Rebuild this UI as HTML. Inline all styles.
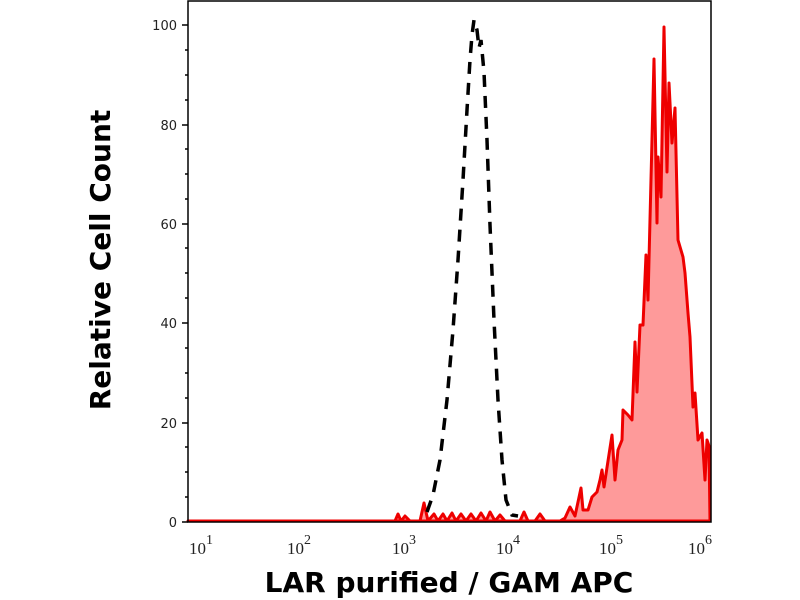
<!DOCTYPE html>
<html><head><meta charset="utf-8"><style>body{margin:0;background:#fff}svg{display:block}</style></head><body>
<svg width="800" height="600" xmlns="http://www.w3.org/2000/svg">
<rect width="800" height="600" fill="#fff"/>
<path d="M188,521 L395,521 L398,514 L401,521 L405,516 L410,521 L420,521 L424,503 L428,521 L434,514 L438,521 L443,514 L447,521 L452,513 L456,521 L461,514 L466,521 L471,514 L476,521 L481,513 L486,521 L490,512 L495,521 L500,515 L505,521 L520,521 L524,512 L528,521 L535,521 L540,514 L545,521 L560,521 L565,518 L570,507 L575,516 L581,488 L583,510 L588,510 L592,497 L597,492 L600,480 L602,470 L604,487 L612,435 L615,480 L618,450 L622,440 L623,410 L628,415 L632,420 L635,342 L637,392 L640,325 L643,325 L646,255 L648,300 L654,59 L657,223 L658,157 L661,197 L664,27 L667,172 L669,83 L672,143 L675,108 L678,240 L683,257 L685,273 L688,313 L690,337 L693,407 L695,393 L698,440 L702,433 L705,480 L707,440 L709,446 L710,521 Z" fill="#fe9a9a" stroke="#e00" stroke-width="3" stroke-linejoin="round"/>
<path d="M427,512 L433,495 L440,460 L447,400 L453,330 L458,260 L463,180 L467,110 L470,60 L472,35 L474,20 L477,30 L479,48 L481,40 L484,72 L487,140 L490,225 L494,320 L498,400 L502,460 L506,500 L512,515 L518,516" fill="none" stroke="#000" stroke-width="3.5" stroke-dasharray="12,9"/>
<rect x="188" y="1" width="523" height="521" fill="none" stroke="#000" stroke-width="1.5"/>
<g stroke="#000" stroke-width="1.5">
<line x1="182" y1="522" x2="188" y2="522"/><line x1="182" y1="423" x2="188" y2="423"/><line x1="182" y1="323" x2="188" y2="323"/><line x1="182" y1="224" x2="188" y2="224"/><line x1="182" y1="125" x2="188" y2="125"/><line x1="182" y1="25" x2="188" y2="25"/>
<line x1="185" y1="497" x2="188" y2="497"/><line x1="185" y1="472" x2="188" y2="472"/><line x1="185" y1="447" x2="188" y2="447"/>
<line x1="185" y1="398" x2="188" y2="398"/><line x1="185" y1="373" x2="188" y2="373"/><line x1="185" y1="348" x2="188" y2="348"/>
<line x1="185" y1="298" x2="188" y2="298"/><line x1="185" y1="273" x2="188" y2="273"/><line x1="185" y1="248" x2="188" y2="248"/>
<line x1="185" y1="199" x2="188" y2="199"/><line x1="185" y1="174" x2="188" y2="174"/><line x1="185" y1="149" x2="188" y2="149"/>
<line x1="185" y1="100" x2="188" y2="100"/><line x1="185" y1="75" x2="188" y2="75"/><line x1="185" y1="50" x2="188" y2="50"/>
</g>
<g stroke="#000" stroke-width="1.5" id="xt"></g>
<script>
var g=document.getElementById('xt'),s='';
for(var d=0;d<5;d++){var x0=188+d*104.7;s+='<line x1="'+x0+'" y1="522" x2="'+x0+'" y2="530"/>';
for(var k=2;k<10;k++){var x=x0+Math.log10(k)*104.7;s+='<line x1="'+x+'" y1="522" x2="'+x+'" y2="526"/>';}}
s+='<line x1="711" y1="522" x2="711" y2="530"/>';g.innerHTML=s;
</script>
<g font-family="DejaVu Sans, sans-serif" font-size="13" fill="#222" text-anchor="end">
<text x="177" y="527">0</text><text x="177" y="428">20</text><text x="177" y="328">40</text><text x="177" y="229">60</text><text x="177" y="130">80</text><text x="177" y="30">100</text>
</g>
<g font-family="Liberation Serif, serif" font-size="17" fill="#222">
<text x="189" y="554">10<tspan font-size="14" dy="-10">1</tspan></text>
<text x="287" y="554">10<tspan font-size="14" dy="-10">2</tspan></text>
<text x="392" y="554">10<tspan font-size="14" dy="-10">3</tspan></text>
<text x="496" y="554">10<tspan font-size="14" dy="-10">4</tspan></text>
<text x="599" y="554">10<tspan font-size="14" dy="-10">5</tspan></text>
<text x="688" y="554">10<tspan font-size="14" dy="-10">6</tspan></text>
</g>
<text x="449" y="592" text-anchor="middle" font-family="DejaVu Sans, sans-serif" font-weight="bold" font-size="28" fill="#000">LAR purified / GAM APC</text>
<text transform="translate(110,260) rotate(-90)" text-anchor="middle" font-family="DejaVu Sans, sans-serif" font-weight="bold" font-size="28" fill="#000">Relative Cell Count</text>
</svg>
</body></html>
